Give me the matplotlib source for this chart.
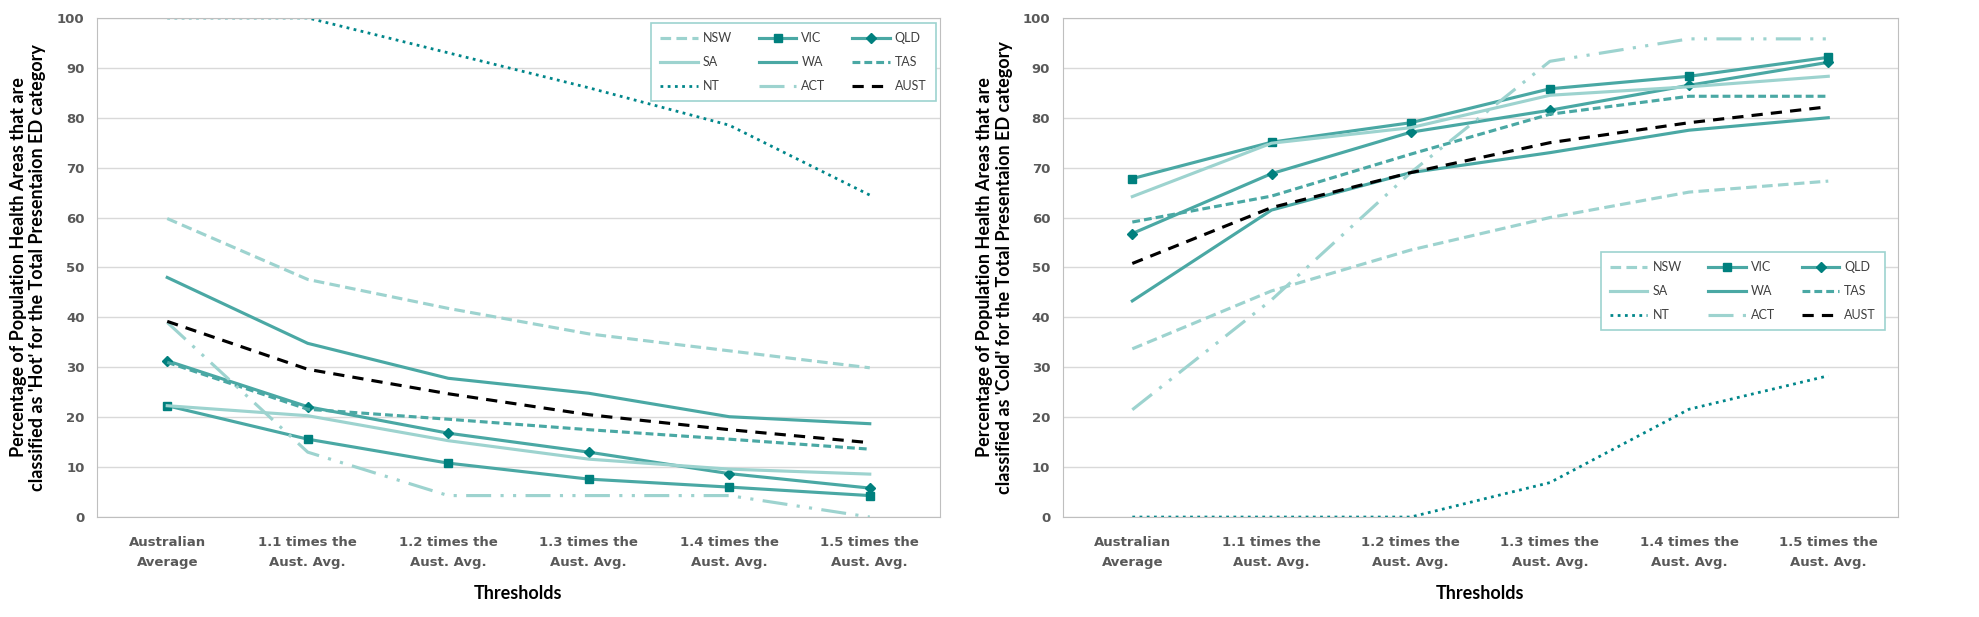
import matplotlib.pyplot as plt

# Threshold categories
thresholds = ['Australian\nAverage', '1.1 times the\nAust. Avg.', '1.2 times the\nAust. Avg.',
              '1.3 times the\nAust. Avg.', '1.4 times the\nAust. Avg.', '1.5 times the\nAust. Avg.']
states = ['NSW', 'VIC', 'QLD', 'SA', 'WA', 'TAS', 'NT', 'ACT', 'AUST']

# 'Hot' percentages
hot_nsw = [59.8, 47.6, 41.8, 36.7, 33.3, 29.9]
hot_vic = [22.3, 15.6, 10.8, 7.6, 6.0, 4.3]
hot_qld = [31.3, 22.1, 16.8, 13.0, 8.7, 5.8]
hot_sa = [22.3, 20.3, 15.3, 11.6, 9.6, 8.6]
hot_wa = [48.0, 34.8, 27.8, 24.8, 20.1, 18.7]
hot_tas = [31.0, 21.6, 19.6, 17.5, 15.6, 13.6]
hot_nt = [100, 100, 93.0, 86.0, 78.5, 64.5]
hot_act = [39.0, 13.0, 4.3, 4.3, 4.3, 0.0]
hot_aust = [39.2, 29.6, 24.7, 20.5, 17.5, 14.9]

# 'Cold' percentages
cold_nsw = [33.7, 45.3, 53.5, 60.0, 65.1, 67.3]
cold_vic = [67.8, 75.1, 79.0, 85.8, 88.3, 92.1]
cold_qld = [56.8, 68.8, 77.1, 81.5, 86.5, 91.1]
cold_sa = [64.2, 74.9, 78.0, 84.5, 86.2, 88.3]
cold_wa = [43.3, 61.5, 69.0, 73.0, 77.5, 80.0]
cold_tas = [59.1, 64.3, 72.7, 80.7, 84.3, 84.3]
cold_nt = [0, 0, 0, 6.9, 21.6, 28.3]
cold_act = [21.5, 43.5, 69.0, 91.3, 95.8, 95.8]
cold_aust = [50.8, 62.0, 69.0, 75.0, 79.0, 82.2]

hot = [hot_nsw, hot_vic, hot_qld, hot_sa, hot_wa, hot_tas, hot_nt, hot_act, hot_aust]
cold = [cold_nsw, cold_vic, cold_qld, cold_sa, cold_wa, cold_tas, cold_nt, cold_act, cold_aust]

light = '#9dd3cf'
mid = '#4aa8a4'
dark = '#00868a'
mk = '#00807e'
styles = {
    'NSW': dict(color=light, ls=(0, (3.4, 1.7))),
    'VIC': dict(color=mid, ls='-', marker='s', ms=6, mfc=mk, mec=mk),
    'QLD': dict(color=mid, ls='-', marker='D', ms=5.5, mfc=mk, mec=mk),
    'SA': dict(color=light, ls='-'),
    'WA': dict(color=mid, ls='-'),
    'TAS': dict(color=mid, ls=(0, (2.5, 1.3))),
    'NT': dict(color=dark, ls=(0, (1, 1.6)), lw=2.0),
    'ACT': dict(color=light, ls=(0, (8, 3, 1, 3, 1, 3))),
    'AUST': dict(color='black', ls=(0, (3.6, 2.6))),
}

fig = plt.figure(figsize=(19.79, 6.17), dpi=100)
ax1 = fig.add_axes([0.049, 0.162, 0.426, 0.809])
ax2 = fig.add_axes([0.537, 0.162, 0.422, 0.809])

x = list(range(len(thresholds)))
tick_font = dict(family='DejaVu Sans', weight='bold', size=9.5, color='#595959')
label_font = dict(family='Lato', weight='bold', size=13, color='black')


def draw(ax, data, kind, legend_box):
    handles = []
    for name, vals in zip(states, data):
        st = dict(lw=2.25)
        st.update(styles[name])
        h, = ax.plot(x, vals, label=name, **st)
        handles.append(h)
    ax.set_xlim(-0.5, 5.5)
    ax.set_ylim(0, 100)
    ax.set_yticks(range(0, 101, 10))
    ax.set_xticks(x)
    ax.set_xticklabels(thresholds, fontdict=tick_font, linespacing=1.7)
    for t in ax.get_yticklabels():
        t.set(**tick_font)
    ax.tick_params(length=0)
    ax.tick_params(axis='x', pad=14)
    ax.tick_params(axis='y', pad=9)
    ax.grid(axis='y', color='#d9d9d9', lw=1)
    ax.set_axisbelow(True)
    for s in ax.spines.values():
        s.set_color('#bfbfbf')
    ax.set_xlabel('Thresholds', fontdict=label_font, labelpad=11)
    ax.set_ylabel("Percentage of Population Health Areas that are\nclassified as '%s' for the Total Presentaion ED category" % kind,
                  fontdict=label_font, linespacing=1.2)
    ax.yaxis.set_label_coords(-0.06, 0.5)
    # legend filled by rows: reorder for matplotlib's column-wise layout
    order = [0, 3, 6, 1, 4, 7, 2, 5, 8]
    leg = ax.legend([handles[i] for i in order], [states[i] for i in order], ncol=3,
                    loc='upper left', bbox_to_anchor=legend_box, mode='expand',
                    fancybox=False, framealpha=1, edgecolor=light,
                    prop={'family': 'Lato', 'size': 9}, labelcolor='#404040',
                    handlelength=3.0, handletextpad=0.4, labelspacing=0.95,
                    borderpad=0.75, borderaxespad=0)
    leg.get_frame().set_linewidth(1.2)


draw(ax1, hot, 'Hot', (0.657, 0.836, 0.338, 0.154))
draw(ax2, cold, 'Cold', (0.644, 0.377, 0.341, 0.154))

plt.savefig('out.png', dpi=100)
